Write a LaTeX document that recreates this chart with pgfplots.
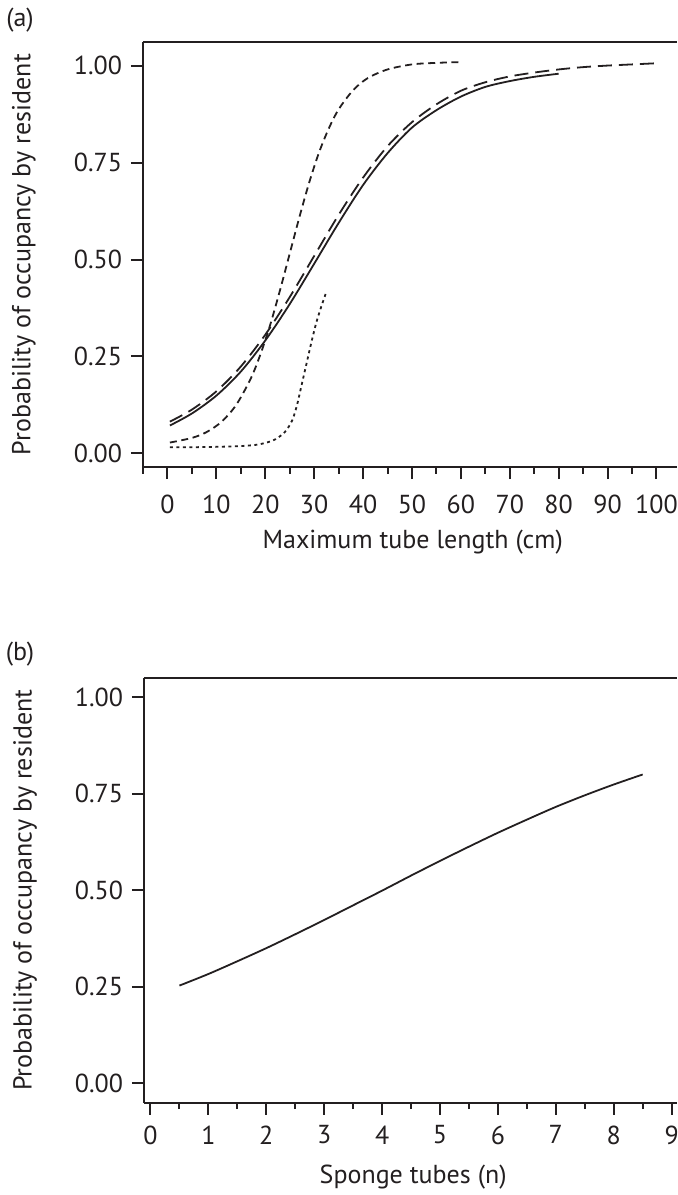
\documentclass[border=0pt]{standalone}
\usepackage{fontspec}
\setmainfont{PT Sans}
\usepackage{pgfplots}
\pgfplotsset{compat=1.18}
\definecolor{ink}{RGB}{35,31,32}

\pgfplotsset{
  panel/.style={
    scale only axis,
    axis x line*=bottom, axis y line*=left,
    axis line style={-, line width=1pt, draw=ink},
    tick align=outside,
    major tick length=6pt, minor tick length=3.3pt,
    tick style={line width=1pt, draw=ink},
    ytick={0,0.25,0.5,0.75,1},
    yticklabels={0.00,0.25,0.50,0.75,1.00},
    /pgf/number format/assume math mode=true,
    ylabel={Probability of occupancy by resident},
    ylabel style={at={(axis description cs:-0.223,0.5)}, anchor=center, text=ink},
    xlabel style={at={(axis description cs:0.505,0)}, anchor=center, yshift=-37.5pt, text=ink},
    tick label style={text=ink},
    clip=false,
  },
  fit/.style={ink, line width=0.9pt, smooth, no markers},
  longdash/.style={fit, dash pattern=on 7pt off 3.5pt},
  shortdash/.style={fit, dash pattern=on 3.5pt off 2.3pt},
  dots/.style={fit, dash pattern=on 1.5pt off 1.75pt},
}

\begin{document}
\fontsize{13}{15.6}\selectfont
\begin{tikzpicture}
\useasboundingbox (-71.5pt,-364pt) rectangle (267pt,233.5pt);

% (a) occupancy against maximum tube length
\begin{axis}[panel, at={(0pt,0pt)}, anchor=south west,
  width=267pt, height=212.35pt,
  xmin=-5, xmax=104.2, ymin=-0.035, ymax=1.06,
  xtick={0,10,...,100}, minor xtick={-5,5,...,95},
  xticklabel style={yshift=-3.5pt},
  xlabel={Maximum tube length (cm)}]
  \addplot[fit] coordinates {
    (0.5,0.072) (5,0.103) (10,0.149) (15,0.211) (20,0.291) (25,0.385)
    (30,0.489) (35,0.594) (40,0.692) (45,0.774) (50,0.840) (55,0.885)
    (60,0.920) (65,0.945) (70,0.960) (75,0.971) (80,0.979)};
  \addplot[longdash] coordinates {
    (0.5,0.082) (5,0.113) (10,0.160) (15,0.224) (20,0.306) (25,0.403)
    (30,0.509) (35,0.615) (40,0.711) (45,0.792) (50,0.854) (55,0.900)
    (60,0.935) (65,0.957) (70,0.972) (75,0.982) (80,0.990) (85,0.996)
    (90,1.000) (95,1.003) (100,1.006)};
  \addplot[shortdash] coordinates {
    (0.5,0.028) (5,0.040) (8,0.055) (11,0.081) (14,0.124) (17,0.192)
    (19,0.255) (21,0.331) (23,0.420) (25,0.515) (27,0.610) (29,0.699)
    (31,0.776) (33,0.838) (35,0.887) (38,0.937) (41,0.968) (45,0.990)
    (50,1.003) (55,1.007) (60,1.009)};
  \addplot[dots] coordinates {
    (0.5,0.016) (5,0.016) (10,0.017) (15,0.019) (18,0.022) (20,0.027)
    (22,0.036) (24,0.055) (25.5,0.085) (26.5,0.125) (27.5,0.180)
    (28.5,0.235) (29.5,0.290) (30.5,0.340) (31.5,0.380) (32.4,0.413)};
  \draw[ink, line width=1pt] (rel axis cs:0,1) -- (rel axis cs:1,1);
\end{axis}
\node[text=ink] at (-61.5pt,223.5pt) {(a)};

% (b) occupancy against number of sponge tubes
\begin{axis}[panel, at={(0.5pt,-317.75pt)}, anchor=south west,
  width=266.5pt, height=212.25pt,
  xmin=-0.112, xmax=9.093, ymin=-0.05, ymax=1.05,
  xtick={0,1,...,9}, minor xtick={0.5,1.5,...,8.5},
  xticklabel style={yshift=-1pt},
  xlabel={Sponge tubes (n)}]
  \addplot[fit] coordinates {
    (0.5,0.253) (1,0.283) (1.5,0.316) (2,0.350) (2.5,0.386) (3,0.423)
    (3.5,0.461) (4,0.499) (4.5,0.538) (5,0.576) (5.5,0.613) (6,0.649)
    (6.5,0.683) (7,0.716) (7.5,0.746) (8,0.774) (8.5,0.800)};
  \draw[ink, line width=1pt] (rel axis cs:0,1) -- (rel axis cs:1,1);
\end{axis}
\node[text=ink] at (-61.5pt,-93.5pt) {(b)};
\end{tikzpicture}
\end{document}
